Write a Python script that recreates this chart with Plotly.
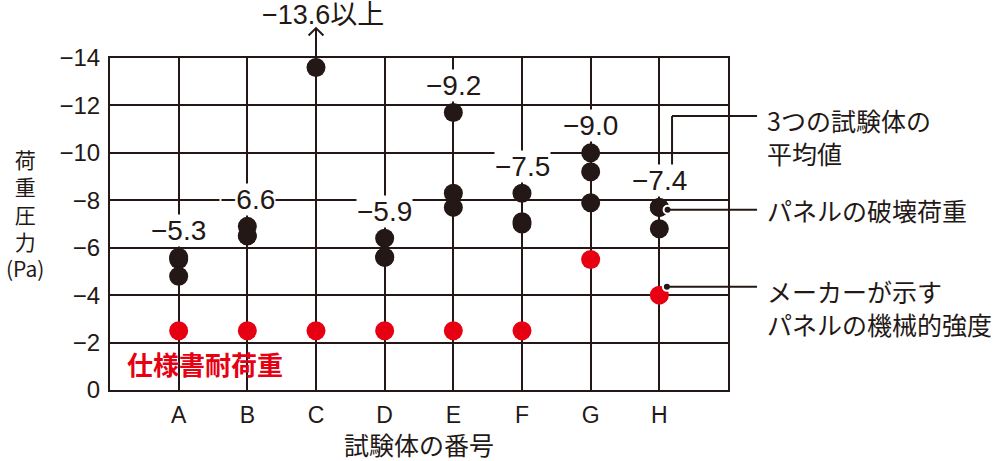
import plotly.graph_objects as go

# データ(荷重圧力, Pa)
categories = ["A", "B", "C", "D", "E", "F", "G", "H"]
break_load = [
    [-5.5, -5.6, -4.8],
    [-6.9, -6.5, -6.5],
    [-13.6],
    [-6.4, -5.6, -5.6],
    [-11.7, -8.3, -7.7],
    [-8.3, -7.1, -7.0],
    [-10.0, -9.2, -7.9],
    [-7.7, -7.7, -6.8],
]
spec_load = [-2.5, -2.5, -2.5, -2.5, -2.5, -2.5, None, None]
maker_strength = [None, None, None, None, None, None, -5.5, -4.0]
mean_text = ["−5.3", "−6.6", "", "−5.9", "−9.2", "−7.5", "−9.0", "−7.4"]
c_text = "−13.6以上"
y_ticks = [0, -2, -4, -6, -8, -10, -12, -14]
y_ticktext = ["0", "−2", "−4", "−6", "−8", "−10", "−12", "−14"]

INK = "#231815"
RED = "#e60012"
FONT = "Liberation Sans, Noto Sans CJK JP, sans-serif"
JP = "Noto Sans CJK JP, sans-serif"

X_RANGE = [-1, 8]
Y_RANGE = [0, -14]


def px_(x):
    return (x - X_RANGE[0]) / (X_RANGE[1] - X_RANGE[0])


def py_(y):
    return (y - Y_RANGE[0]) / (Y_RANGE[1] - Y_RANGE[0])


xs = list(range(len(categories)))
bx = [i for i, v in enumerate(break_load) for _ in v]
by = [y for v in break_load for y in v]

fig = go.Figure()
fig.add_trace(go.Scatter(x=bx, y=by, mode="markers",
                         marker=dict(size=19, color=INK), hoverinfo="skip"))
fig.add_trace(go.Scatter(x=xs, y=spec_load, mode="markers",
                         marker=dict(size=19, color=RED), hoverinfo="skip"))
fig.add_trace(go.Scatter(x=xs, y=maker_strength, mode="markers",
                         marker=dict(size=19, color=RED), hoverinfo="skip"))

# 平均値ラベル
for i, t in enumerate(mean_text):
    if not t:
        continue
    fig.add_annotation(x=i, y=min(break_load[i]), text=t, showarrow=False,
                       yshift=27, yanchor="middle", bgcolor="white", borderpad=0,
                       font=dict(family=FONT, size=28, color=INK))

# C の矢印と「以上」
ci = categories.index("C")
tip = 1.09
shapes = [
    dict(type="line", xref="paper", yref="paper", x0=px_(ci), x1=px_(ci),
         y0=1, y1=tip, line=dict(color=INK, width=2)),
    dict(type="path", xref="paper", yref="paper",
         path=f"M {px_(ci) - 0.012} {tip - 0.022} L {px_(ci)} {tip} L {px_(ci) + 0.012} {tip - 0.022}",
         line=dict(color=INK, width=2)),
]
fig.add_annotation(xref="paper", yref="paper", x=px_(ci) + 0.011, y=1.13, text=c_text,
                   showarrow=False, yanchor="middle",
                   font=dict(family=FONT, size=27, color=INK))

# 引き出し線
hi = categories.index("H")
text_x = 1.06
line_end = 1.047
mean_pt = (hi + 0.185, min(break_load[hi]) - 1.65)
mean_top = -11.55
brk_pt = (hi + 0.12, min(break_load[hi]) + 0.1)
mkr_pt = (hi + 0.11, maker_strength[hi] - 0.35)

shapes += [
    dict(type="line", xref="paper", yref="paper", x0=px_(mean_pt[0]), x1=px_(mean_pt[0]),
         y0=py_(mean_pt[1]), y1=py_(mean_top), line=dict(color=INK, width=2)),
    dict(type="line", xref="paper", yref="paper", x0=px_(mean_pt[0]), x1=line_end,
         y0=py_(mean_top), y1=py_(mean_top), line=dict(color=INK, width=2)),
    dict(type="line", xref="paper", yref="paper", x0=px_(brk_pt[0]), x1=line_end,
         y0=py_(brk_pt[1]), y1=py_(brk_pt[1]), line=dict(color=INK, width=2)),
    dict(type="line", xref="paper", yref="paper", x0=px_(mkr_pt[0]), x1=line_end,
         y0=py_(mkr_pt[1]), y1=py_(mkr_pt[1]), line=dict(color=INK, width=2)),
]
fig.add_trace(go.Scatter(x=[mean_pt[0]], y=[mean_pt[1]], mode="markers",
                         marker=dict(size=7, color=INK), hoverinfo="skip"))
fig.add_trace(go.Scatter(x=[brk_pt[0], mkr_pt[0]], y=[brk_pt[1], mkr_pt[1]], mode="markers",
                         marker=dict(size=8, color=INK, line=dict(color="white", width=2)),
                         hoverinfo="skip"))

fig.add_annotation(xref="paper", yref="paper", x=text_x, y=py_(mean_top),
                   yanchor="top", xanchor="left", showarrow=False, align="left",
                   text="3つの試験体の<br>平均値", yshift=16,
                   font=dict(family=JP, size=25, color=INK))
fig.add_annotation(xref="paper", yref="paper", x=text_x, y=py_(brk_pt[1]),
                   yanchor="middle", xanchor="left", showarrow=False,
                   text="パネルの破壊荷重", font=dict(family=JP, size=25, color=INK))
fig.add_annotation(xref="paper", yref="paper", x=text_x, y=py_(mkr_pt[1]),
                   yanchor="top", xanchor="left", showarrow=False, align="left",
                   text="メーカーが示す<br>パネルの機械的強度", yshift=16,
                   font=dict(family=JP, size=25, color=INK))

fig.add_annotation(xref="paper", yref="paper", x=0.024, y=py_(-1.12),
                   xanchor="left", yanchor="middle", showarrow=False,
                   text="<b>仕様書耐荷重</b>", font=dict(family=JP, size=26, color=RED))

# 軸タイトル
fig.add_annotation(xref="paper", yref="paper", x=-0.137, y=py_(-7.45),
                   xanchor="center", yanchor="middle", showarrow=False,
                   text="荷<br>重<br>圧<br>力<br>(Pa)",
                   font=dict(family=JP, size=21, color=INK))
fig.add_annotation(xref="paper", yref="paper", x=0.5, y=-0.164, text="試験体の番号",
                   showarrow=False, yanchor="middle",
                   font=dict(family=JP, size=25, color=INK))

fig.update_xaxes(range=X_RANGE, tickvals=xs, ticktext=categories, showgrid=True,
                 gridcolor=INK, gridwidth=2, zeroline=False, showline=True,
                 linecolor=INK, linewidth=2, mirror=True, ticks="",
                 ticklabelstandoff=3, tickfont=dict(family=FONT, size=23, color=INK))
fig.update_yaxes(range=Y_RANGE, tickvals=y_ticks, ticktext=y_ticktext, showgrid=True,
                 gridcolor=INK, gridwidth=2, zeroline=False, showline=True,
                 linecolor=INK, linewidth=2, mirror=True, ticks="",
                 ticklabelstandoff=3, tickfont=dict(family=FONT, size=24, color=INK))

fig.update_layout(width=1000, height=461, margin=dict(l=110, r=272, t=58, b=71),
                  plot_bgcolor="white", paper_bgcolor="white", showlegend=False,
                  shapes=shapes)

# ページの既定余白を消して図をウィンドウ全体に合わせる
fig.write_html("out.html", config={"displayModeBar": False},
               post_script="document.body.style.margin='0';")
